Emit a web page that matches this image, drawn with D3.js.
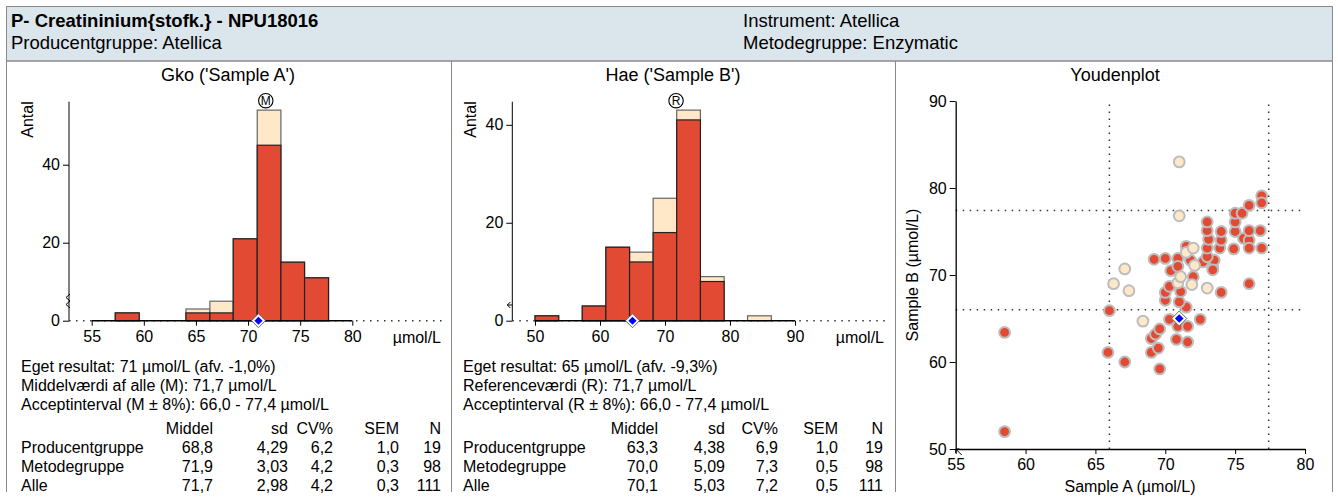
<!DOCTYPE html>
<html lang="da">
<head>
<meta charset="UTF-8">
<title>Creatininium</title>
<script src="https://d3js.org/d3.v7.min.js"></script>
<style>
  body { margin: 0; background: #fff; }
  svg text { font-family: "Liberation Sans", Arial, sans-serif; fill: #000; }
</style>
</head>
<body>
<div id="chart"></div>
<script>
// histogram A (Gko) - bin edges and counts
const binsA = [57.26, 59.56, 61.8, 64.04, 66.34, 68.58, 70.88, 73.15, 75.42, 77.72];
const alleA = [2, 0, 0, 3, 5, 21, 54, 15, 11];
const metodeHistA = [2, 0, 0, 2, 2, 21, 45, 15, 11];

// histogram B (Hae)
const binsB = [50.0, 53.64, 57.27, 60.9, 64.55, 68.18, 71.8, 75.45, 79.1, 82.7, 86.36];
const alleB = [1, 0, 3, 15, 14, 25, 43, 9, 0, 1];
const metodeHistB = [1, 0, 3, 15, 12, 18, 41, 8, 0, 0];

// youdenplot: metodegruppe (rød) og andre (lys)
const metodeA = [58.5, 58.5, 66.0, 65.9, 67.1, 69.6, 69.0, 69.5, 69.0, 69.3, 69.6, 70.8, 71.6, 70.9, 71.6, 70.3, 72.5, 71.5, 71.0, 70.0,
  70.0, 71.1, 70.3, 74.0, 76.0, 72.0, 70.4, 73.4, 69.2, 70.0, 70.9, 71.8, 71.5, 72.7, 73.5, 73.0, 73.0, 73.1, 73.0, 73.0,
  73.9, 74.0, 74.0, 74.9, 75.0, 75.0, 75.0, 75.5, 76.0, 76.9, 76.9, 75.6, 76.0, 76.0, 76.0, 76.8, 76.9, 70.9, 73.4];
const metodeB = [63.4, 52.0, 65.9, 61.1, 60.0, 59.2, 61.1, 61.6, 62.7, 63.2, 63.8, 62.6, 62.3, 64.1, 64.1, 64.9, 64.9, 66.3, 66.9, 67.1,
  68.0, 68.1, 68.7, 68.0, 69.0, 69.8, 70.5, 70.8, 71.8, 71.9, 71.9, 71.7, 73.3, 71.5, 71.7, 72.1, 73.1, 74.1, 75.1, 76.1,
  73.1, 74.0, 75.0, 73.0, 75.0, 76.1, 77.1, 77.1, 78.0, 79.1, 78.3, 74.2, 74.0, 73.1, 75.1, 75.1, 73.1, 71.0, 70.6];
const andreA = [71.0, 71.0, 67.1, 71.5, 72.0, 72.1, 66.3, 67.4, 70.9, 71.9, 73.0, 71.1, 68.4];
const andreB = [83.0, 76.8, 70.7, 72.6, 73.1, 71.1, 69.0, 68.2, 69.1, 68.9, 68.5, 69.8, 64.7];

// egne resultater, middel og acceptinterval
const egetA = 71, egetB = 65;
const middelA = 71.7, refB = 71.7;
const acceptLav = 66.0, acceptHoej = 77.4;

// tekster
const tekstA = ["Eget resultat: 71 µmol/L (afv. -1,0%)", "Middelværdi af alle (M): 71,7 µmol/L", "Acceptinterval (M ± 8%): 66,0 - 77,4 µmol/L"];
const tekstB = ["Eget resultat: 65 µmol/L (afv. -9,3%)", "Referenceværdi (R): 71,7 µmol/L", "Acceptinterval (R ± 8%): 66,0 - 77,4 µmol/L"];
const kolonner = ["Middel", "sd", "CV%", "SEM", "N"];
const grupper = ["Producentgruppe", "Metodegruppe", "Alle"];
const statA = [["68,8", "4,29", "6,2", "1,0", "19"], ["71,9", "3,03", "4,2", "0,3", "98"], ["71,7", "2,98", "4,2", "0,3", "111"]];
const statB = [["63,3", "4,38", "6,9", "1,0", "19"], ["70,0", "5,09", "7,3", "0,5", "98"], ["70,1", "5,03", "7,2", "0,5", "111"]];

const rod = "#e34a33";
const lys = "#fee8c8";

const svg = d3.select("#chart").append("svg")
  .attr("width", 1338)
  .attr("height", 502);

// header
svg.append("rect").attr("x", 6.5).attr("y", 6.5).attr("width", 1326).attr("height", 54.5)
  .attr("fill", "#dbe5ec").attr("stroke", "#8a8a8a");
svg.append("text").attr("x", 11).attr("y", 27).attr("font-size", "18.5px").attr("font-weight", "bold")
  .text("P- Creatininium{stofk.} - NPU18016");
svg.append("text").attr("x", 11).attr("y", 49).attr("font-size", "18.5px").text("Producentgruppe: Atellica");
svg.append("text").attr("x", 743).attr("y", 27).attr("font-size", "18.5px").text("Instrument: Atellica");
svg.append("text").attr("x", 743).attr("y", 49).attr("font-size", "18.5px").text("Metodegruppe: Enzymatic");

// panel rammer
[[6.5, 451.5], [451.5, 895.5], [895.5, 1332.5]].forEach(p => {
  svg.append("path")
    .attr("d", `M${p[0]},492 V61 H${p[1]} V492`)
    .attr("fill", "none").attr("stroke", "#8a8a8a");
});

function diamant(g, x, y, r) {
  g.append("path").attr("d", `M${x},${y - r} L${x + r},${y} L${x},${y + r} L${x - r},${y} Z`)
    .attr("fill", "#fff").attr("stroke", "#666").attr("stroke-width", 1);
  const ri = r * 0.58;
  g.append("path").attr("d", `M${x},${y - ri} L${x + ri},${y} L${x},${y + ri} L${x - ri},${y} Z`)
    .attr("fill", "#0000ff");
}

function histogram(opt) {
  const g = svg.append("g");
  const x = d3.scaleLinear().domain(opt.xDomain).range(opt.xRange);
  const y = d3.scaleLinear().domain([0, d3.max(opt.alle) * 1.04]).range([320.7, 101.7]);

  g.append("text").attr("x", opt.midt).attr("y", 81).attr("text-anchor", "middle")
    .attr("font-size", "18px").text(opt.titel);

  // stiplet grundlinje
  g.append("line").attr("x1", opt.yAxisX).attr("x2", opt.hoejre).attr("y1", y(0)).attr("y2", y(0))
    .attr("stroke", "#333").attr("stroke-width", 1.5).attr("stroke-dasharray", "1.5,5.5");

  const bins = opt.alle.map((d, i) => ({ x0: opt.bins[i], x1: opt.bins[i + 1], alle: d, metode: opt.metode[i] }))
    .filter(d => d.alle > 0);

  g.selectAll("rect.alle").data(bins).join("rect").attr("class", "alle")
    .attr("x", d => x(d.x0)).attr("width", d => x(d.x1) - x(d.x0))
    .attr("y", d => y(d.alle)).attr("height", d => y(0) - y(d.alle))
    .attr("fill", lys).attr("stroke", "#666").attr("stroke-width", 1.2);

  g.selectAll("rect.metode").data(bins.filter(d => d.metode > 0)).join("rect").attr("class", "metode")
    .attr("x", d => x(d.x0)).attr("width", d => x(d.x1) - x(d.x0))
    .attr("y", d => y(d.metode)).attr("height", d => y(0) - y(d.metode))
    .attr("fill", rod).attr("stroke", "#222").attr("stroke-width", 1.2);

  // akser
  const xAkse = g.append("g").attr("transform", `translate(0,${y(0)})`)
    .call(d3.axisBottom(x).tickValues(opt.ticks).tickSize(5).tickSizeOuter(0).tickPadding(5));
  xAkse.selectAll("text").attr("font-size", "16px");
  xAkse.select(".domain").attr("stroke-width", 1.5);
  xAkse.select(".domain").attr("d", `M${x(opt.ticks[0])},0H${x(opt.ticks[opt.ticks.length - 1])}`);

  const yAkse = g.append("g").attr("transform", `translate(${opt.yAxisX},0)`)
    .call(d3.axisLeft(y).tickValues([0, 20, 40]).tickSize(6).tickSizeOuter(0).tickPadding(3));
  yAkse.selectAll("text").attr("font-size", "16px");
  yAkse.select(".domain").attr("d", `M0,${y.range()[0]}V${y.range()[1]}`);

  g.append("text").attr("x", opt.hoejre - 2).attr("y", 343).attr("text-anchor", "end")
    .attr("font-size", "16px").text("µmol/L");

  g.append("text").attr("transform", `translate(${opt.yAxisX - 36},119.5) rotate(-90)`)
    .attr("text-anchor", "middle").attr("font-size", "16px").text("Antal");

  // middel / reference markering
  g.append("circle").attr("cx", x(opt.ref)).attr("cy", 100.7).attr("r", 7.2)
    .attr("fill", "#fff").attr("stroke", "#000").attr("stroke-width", 1.1);
  g.append("text").attr("x", x(opt.ref)).attr("y", 105).attr("text-anchor", "middle")
    .attr("font-size", "12px").text(opt.refTegn);

  // akse knæk / pil
  g.append("path").attr("d", opt.knaek(opt.yAxisX))
    .attr("fill", "none").attr("stroke", "#000").attr("stroke-width", 1);

  diamant(g, x(opt.eget), y(0), 7);

  // tekst under
  opt.tekst.forEach((t, i) => {
    g.append("text").attr("x", opt.venstre).attr("y", 372 + i * 19).attr("font-size", "16px").text(t);
  });
  kolonner.forEach((k, j) => {
    g.append("text").attr("x", opt.kol[j]).attr("y", 434).attr("text-anchor", "end")
      .attr("font-size", "16px").text(k);
  });
  grupper.forEach((gr, i) => {
    g.append("text").attr("x", opt.venstre).attr("y", 453 + i * 19).attr("font-size", "16px").text(gr);
    opt.stat[i].forEach((v, j) => {
      g.append("text").attr("x", opt.kol[j]).attr("y", 453 + i * 19).attr("text-anchor", "end")
        .attr("font-size", "16px").text(v);
    });
  });
}

histogram({
  titel: "Gko ('Sample A')", midt: 228, bins: binsA, alle: alleA, metode: metodeHistA,
  xDomain: [55, 80], xRange: [91.7, 352.3], ticks: [55, 60, 65, 70, 75, 80],
  yAxisX: 69, hoejre: 443, ref: middelA, refTegn: "M", eget: egetA,
  knaek: xa => `M${xa + 1},294 l-4,3.5 l4,3.5 l-4,3.5 l4,3.5`,
  tekst: tekstA, stat: statA, venstre: 21, kol: [213, 288, 333, 399, 441]
});

histogram({
  titel: "Hae ('Sample B')", midt: 673, bins: binsB, alle: alleB, metode: metodeHistB,
  xDomain: [50, 90], xRange: [535, 795], ticks: [50, 60, 70, 80, 90],
  yAxisX: 512.3, hoejre: 886, ref: refB, refTegn: "R", eget: egetB,
  knaek: xa => `M${xa},305 h-5 m3,-3 l-3,3 l3,3`,
  tekst: tekstB, stat: statB, venstre: 463, kol: [658, 725, 778, 838, 883]
});

// youdenplot
const yg = svg.append("g");
const xY = d3.scaleLinear().domain([55, 80]).range([955.7, 1305]);
const yY = d3.scaleLinear().domain([50, 90]).range([449, 101]);

yg.append("text").attr("x", 1115).attr("y", 81).attr("text-anchor", "middle").attr("font-size", "18px").text("Youdenplot");

[acceptLav, acceptHoej].forEach(v => {
  yg.append("line").attr("x1", xY(v)).attr("x2", xY(v)).attr("y1", yY(50)).attr("y2", 103)
    .attr("stroke", "#333").attr("stroke-width", 1.5).attr("stroke-dasharray", "1.5,5.5");
  yg.append("line").attr("x1", xY(55)).attr("x2", xY(80)).attr("y1", yY(v)).attr("y2", yY(v))
    .attr("stroke", "#333").attr("stroke-width", 1.5).attr("stroke-dasharray", "1.5,5.5");
});

const punkter = metodeA.map((d, i) => ({ a: d, b: metodeB[i], farve: rod }))
  .concat(andreA.map((d, i) => ({ a: d, b: andreB[i], farve: lys })));

yg.selectAll("circle").data(punkter).join("circle")
  .attr("cx", d => xY(d.a)).attr("cy", d => yY(d.b)).attr("r", 5.4)
  .attr("fill", d => d.farve).attr("stroke", "#bdbdbd").attr("stroke-width", 2);

const yxAkse = yg.append("g").attr("transform", `translate(0,${yY(50)})`)
  .call(d3.axisBottom(xY).tickValues([55, 60, 65, 70, 75, 80]).tickSize(5).tickSizeOuter(0).tickPadding(5));
yxAkse.selectAll("text").attr("font-size", "16px");
yxAkse.select(".domain").attr("stroke-width", 1.3);
const yyAkse = yg.append("g").attr("transform", `translate(${xY(55)},0)`)
  .call(d3.axisLeft(yY).tickValues([50, 60, 70, 80, 90]).tickSize(6).tickSizeOuter(0).tickPadding(3));
yyAkse.selectAll("text").attr("font-size", "16px");
yyAkse.select(".domain").attr("stroke-width", 1.3);

// pil i hjoernet (punkt uden for plottet)
yg.append("path").attr("d", `M${xY(55) + 6},${yY(50) + 6} L${xY(55)},${yY(50)} m0,4 v-4 h4`)
  .attr("fill", "none").attr("stroke", "#000").attr("stroke-width", 1);

diamant(yg, xY(egetA), yY(egetB), 7.5);

yg.append("text").attr("x", 1130).attr("y", 492).attr("text-anchor", "middle").attr("font-size", "16px")
  .text("Sample A (µmol/L)");
yg.append("text").attr("transform", `translate(918,275) rotate(-90)`).attr("text-anchor", "middle")
  .attr("font-size", "16px").text("Sample B (µmol/L)");
</script>
</body>
</html>
